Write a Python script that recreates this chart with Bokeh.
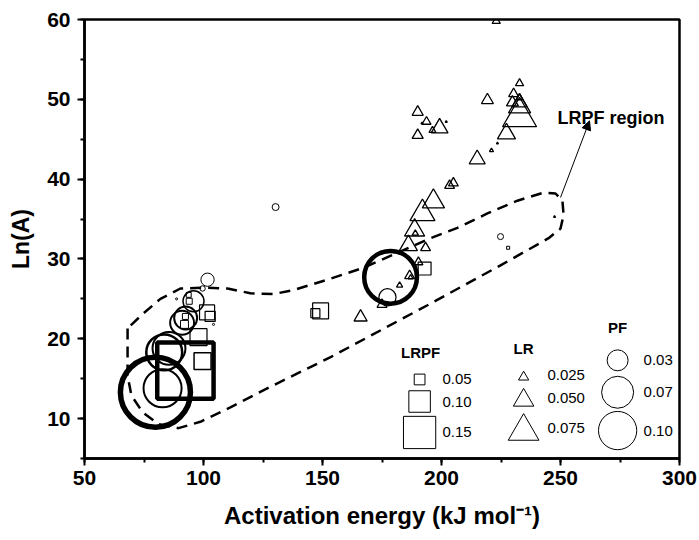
import numpy as np
from bokeh.plotting import figure
from bokeh.models import ColumnDataSource, Label, Arrow, NormalHead, SingleIntervalTicker
from bokeh.embed import file_html
from bokeh.resources import INLINE

# ---------------- data ----------------
# PF series (circles): activation energy, Ln(A), PF value
pf_ea = [79.8, 82.8, 83.5, 85.5, 91.0, 92.5, 95.8, 101.7, 99.6, 130.3, 178.6, 177.3, 224.8, 88.7, 104.2]
pf_lna = [13.3, 13.8, 18.3, 18.8, 22.0, 22.6, 24.7, 27.4, 26.3, 36.5, 27.7, 25.2, 32.8, 25.0, 21.8]
pf_val = [0.335, 0.099, 0.088, 0.074, 0.039, 0.036, 0.030, 0.012, 0.002, 0.0033, 0.19, 0.020, 0.0025, 0.0003, 0.0003]
pf_edge = [5.5, 2, 2.5, 2, 2, 2, 1.5, 1, 1, 1, 4.5, 1.2, 1, 1, 1]

# LRPF series (squares)
lrpf_ea = [92.4, 99.6, 97.9, 101.5, 102.8, 92.4, 92.0, 94.0, 93.8, 149.2, 147.0, 192.9, 228.0]
lrpf_lna = [16.0, 17.2, 20.2, 23.3, 22.8, 22.8, 21.8, 24.7, 25.5, 23.5, 23.2, 28.8, 31.4]
lrpf_val = [0.262, 0.079, 0.079, 0.070, 0.047, 0.028, 0.037, 0.028, 0.023, 0.074, 0.042, 0.060, 0.014]
lrpf_edge = [4.5, 1.5, 1.2, 1.2, 1.2, 1, 1, 1, 1, 1.2, 1.2, 1.2, 1]

# LR series (triangles)
lr_ea = [166.0, 175.0, 182.4, 186.6, 187.0, 190.3, 186.1, 193.3, 188.7, 189.0, 192.0, 196.6,
         203.4, 205.0, 215.0, 221.0, 227.3, 219.3, 232.8, 230.3, 229.8, 232.8, 232.8, 232.8,
         232.8, 190.0, 193.7, 196.2, 199.2, 190.0, 223.0, 202.0, 247.5, 223.5, 191.8]
lr_lna = [22.7, 24.3, 26.7, 27.9, 27.7, 29.6, 31.7, 31.4, 33.6, 33.2, 35.7, 37.2,
          39.2, 39.5, 42.5, 43.6, 45.7, 49.9, 52.0, 50.7, 49.6, 50.2, 49.6, 49.1,
          47.8, 48.4, 47.2, 46.1, 46.4, 45.5, 59.8, 47.2, 35.3, 44.5, 47.0]
lr_val = [0.032, 0.024, 0.015, 0.024, 0.012, 0.022, 0.044, 0.024, 0.049, 0.015, 0.061, 0.054,
          0.024, 0.024, 0.039, 0.010, 0.044, 0.029, 0.020, 0.024, 0.029, 0.017, 0.037, 0.054,
          0.083, 0.027, 0.022, 0.017, 0.041, 0.027, 0.020, 0.005, 0.005, 0.005, 0.005]

# LRPF region outline (activation energy, Ln(A))
reg_ea = [68.1, 68.1, 69.7, 74.4, 81.1, 89.5, 98.7, 111.3, 128.2, 153.4, 194.1, 224.8, 245.0,
          250.0, 251.3, 250.8, 247.9, 242.9, 231.9, 219.3, 206.7, 195.4, 184.0, 167.2, 152.1,
          137.8, 129.4, 119.7, 110.1, 100.8, 90.3, 81.9, 74.8]
reg_lna = [21.3, 15.4, 12.9, 10.8, 9.3, 8.8, 9.6, 11.4, 14.0, 17.7, 24.2, 29.2, 32.6,
           33.8, 35.5, 37.3, 38.2, 38.3, 37.3, 35.7, 33.9, 32.6, 31.1, 28.9, 27.4,
           26.1, 25.6, 25.7, 26.3, 26.4, 26.3, 25.0, 23.2]

# legend keys
leg_lrpf = [0.05, 0.10, 0.15]
leg_lr = [0.025, 0.050, 0.075]
leg_pf = [0.03, 0.07, 0.10]
leg_lrpf_txt = ["0.05", "0.10", "0.15"]
leg_lr_txt = ["0.025", "0.050", "0.075"]
leg_pf_txt = ["0.03", "0.07", "0.10"]

# ---------------- size scales ----------------
def pf_size(v):
    return 121.0 * np.sqrt(np.asarray(v))

def lrpf_size(v):
    return 215.0 * np.asarray(v)

def lr_size(v):
    return 410.0 * np.asarray(v)

FONT = "Liberation Sans"

p = figure(width=699, height=540, x_range=(50, 300), y_range=(5, 60),
           output_backend="svg", toolbar_location=None,
           min_border_left=84, min_border_right=20, min_border_top=19, min_border_bottom=82)
p.title.visible = False
p.xgrid.visible = False
p.ygrid.visible = False
p.outline_line_color = "black"
p.outline_line_width = 2.5
p.background_fill_color = "white"
p.border_fill_color = "white"

p.xaxis.ticker = SingleIntervalTicker(interval=50, num_minor_ticks=2)
p.yaxis.ticker = SingleIntervalTicker(interval=10, num_minor_ticks=2)
for ax in (p.xaxis[0], p.yaxis[0]):
    ax.axis_line_width = 2.5
    ax.axis_line_color = "black"
    ax.major_tick_line_width = 2
    ax.minor_tick_line_width = 2
    ax.major_tick_out = 7
    ax.major_tick_in = 0
    ax.minor_tick_out = 4
    ax.minor_tick_in = 0
    ax.major_label_text_font = FONT
    ax.major_label_text_font_style = "bold"
    ax.major_label_text_font_size = "21px"
    ax.major_label_text_color = "black"
    ax.axis_label_text_font = FONT
    ax.axis_label_text_font_style = "bold"
    ax.axis_label_text_color = "black"
p.xaxis.axis_label_text_font_size = "24px"
p.yaxis.axis_label_text_font_size = "23px"
p.xaxis.major_label_standoff = 5
p.yaxis.major_label_standoff = 7
p.xaxis.axis_label = "Activation energy (kJ mol\u207b\u00b9)"
p.yaxis.axis_label = "Ln(A)"
p.xaxis.axis_label_standoff = 14
p.yaxis.axis_label_standoff = 10

# region
p.patch(reg_ea, reg_lna, fill_color=None, line_color="black", line_width=2.5, line_dash="11 7")

# markers
src_sq = ColumnDataSource(dict(x=lrpf_ea, y=lrpf_lna, s=lrpf_size(lrpf_val), w=lrpf_edge))
p.scatter("x", "y", size="s", marker="square", source=src_sq, fill_alpha=0,
          line_color="black", line_width="w")

src_tr = ColumnDataSource(dict(x=lr_ea, y=lr_lna, s=lr_size(lr_val)))
p.scatter("x", "y", size="s", marker="triangle", source=src_tr, fill_alpha=0,
          line_color="black", line_width=1.3)

src_ci = ColumnDataSource(dict(x=pf_ea, y=pf_lna, s=pf_size(pf_val), w=pf_edge))
p.scatter("x", "y", size="s", marker="circle", source=src_ci, fill_alpha=0,
          line_color="black", line_width="w")

# legend key markers
p.scatter([190.8] * 3, [14.9, 12.14, 8.26], size=lrpf_size(leg_lrpf), marker="square",
          fill_alpha=0, line_color="black", line_width=1)
p.scatter([234.5] * 3, [15.2, 12.3, 8.4], size=lr_size(leg_lr), marker="triangle",
          fill_alpha=0, line_color="black", line_width=1)
p.scatter([274.0] * 3, [17.3, 13.3, 8.5], size=pf_size(leg_pf), marker="circle",
          fill_alpha=0, line_color="black", line_width=1)

def lab(x, y, t, size="15px", bold=False, align="left", baseline="middle", angle=0.0):
    p.add_layout(Label(x=x, y=y, text=t, text_font=FONT, text_font_size=size,
                       text_font_style="bold" if bold else "normal", text_align=align,
                       text_baseline=baseline, text_color="black", angle=angle))

for yy, t in zip([14.9, 12.14, 8.26], leg_lrpf_txt):
    lab(200.4, yy, t)
for yy, t in zip([15.5, 12.6, 8.8], leg_lr_txt):
    lab(244.5, yy, t)
for yy, t in zip([17.3, 13.3, 8.5], leg_pf_txt):
    lab(284.9, yy, t)
lab(191.2, 18.3, "LRPF", bold=True, align="center")
lab(234.5, 18.8, "LR", bold=True, align="center")
lab(274.0, 21.4, "PF", bold=True, align="center")

# region annotation
lab(248.7, 47.6, "LRPF region", size="18px", bold=True, baseline="alphabetic")
p.add_layout(Arrow(end=NormalHead(size=9, fill_color="black", line_color="black"),
                   x_start=250.0, y_start=37.7, x_end=262.2, y_end=47.3,
                   line_color="black", line_width=1))

open("out.html", "w").write(file_html(p, INLINE))
